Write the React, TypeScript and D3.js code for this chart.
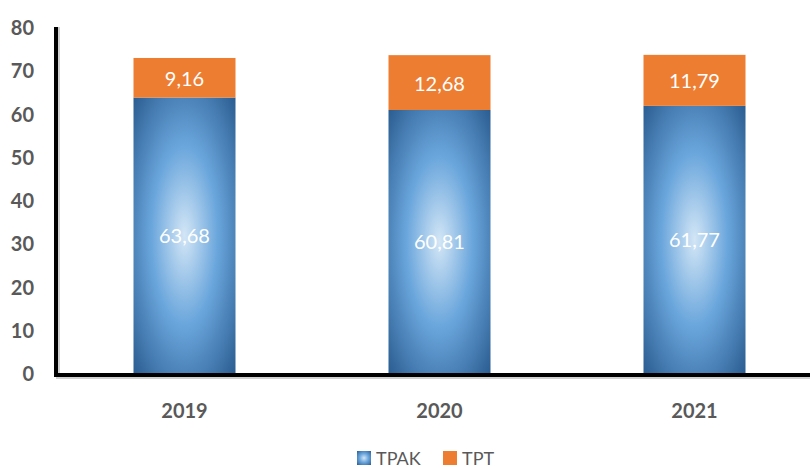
import React from "react";
import * as d3 from "d3";

const years = ["2019", "2020", "2021"];
const tpak = [63.68, 60.81, 61.77];
const tpt = [9.16, 12.68, 11.79];
const yTicks = [0, 10, 20, 30, 40, 50, 60, 70, 80];

const fmt = (v: number) => v.toFixed(2).replace(".", ",");

const App: React.FC = () => {
  const width = 810;
  const height = 468;

  const x = d3.scaleBand().domain(years).range([57, 822]).paddingInner(0.6).paddingOuter(0.3);
  const y = d3.scaleLinear().domain([0, 80]).range([373, 27]);

  const labelFont = "Lato, 'Open Sans', sans-serif";

  return (
    <svg
      width={width}
      height={height}
      style={{ position: "absolute", left: 0, top: 0, background: "#fff" }}
    >
      <defs>
        <radialGradient id="blueGrad" cx="50%" cy="50%" r="72%">
          <stop offset="0%" stopColor="#d3e6f6" />
          <stop offset="45%" stopColor="#6aa6dc" />
          <stop offset="100%" stopColor="#285a8e" />
        </radialGradient>
      </defs>

      {/* bars */}
      {years.map((yr, i) => {
        const bx = x(yr) || 0;
        const bw = x.bandwidth();
        const yBase = y(0);
        const yMid = y(tpak[i]);
        const yTop = y(tpak[i] + tpt[i]);
        return (
          <g key={yr}>
            <rect x={bx} y={yMid} width={bw} height={yBase - yMid} fill="url(#blueGrad)" />
            <rect x={bx} y={yTop} width={bw} height={yMid - yTop} fill="#ed7d31" />
            <text
              x={bx + bw / 2}
              y={(yBase + yMid) / 2}
              textAnchor="middle"
              dominantBaseline="central"
              fill="#fff"
              fontFamily={labelFont}
              fontSize={20}
            >
              {fmt(tpak[i])}
            </text>
            <text
              x={bx + bw / 2}
              y={(yMid + yTop) / 2}
              textAnchor="middle"
              dominantBaseline="central"
              fill="#fff"
              fontFamily={labelFont}
              fontSize={20}
            >
              {fmt(tpt[i])}
            </text>
          </g>
        );
      })}

      {/* axes */}
      <line x1={58} y1={27} x2={58} y2={378} stroke="#d0d0d0" strokeWidth={4} />
      <line x1={56} y1={27} x2={56} y2={376} stroke="#000" strokeWidth={4} />
      <line x1={56} y1={377} x2={810} y2={377} stroke="#d0d0d0" strokeWidth={4} />
      <line x1={54} y1={375} x2={810} y2={375} stroke="#000" strokeWidth={4} />

      {yTicks.map((t) => (
        <text
          key={t}
          x={34}
          y={y(t)}
          textAnchor="end"
          dominantBaseline="central"
          fill="#595959"
          fontFamily={labelFont}
          fontWeight="bold"
          fontSize={20}
        >
          {t}
        </text>
      ))}

      {years.map((yr) => (
        <text
          key={yr}
          x={(x(yr) || 0) + x.bandwidth() / 2}
          y={410}
          textAnchor="middle"
          dominantBaseline="central"
          fill="#595959"
          fontFamily={labelFont}
          fontWeight="bold"
          fontSize={20}
        >
          {yr}
        </text>
      ))}

      {/* legend */}
      <rect x={357} y={451} width={14} height={14} fill="url(#blueGrad)" />
      <text x={376} y={458} dominantBaseline="central" fill="#595959" fontFamily={labelFont} fontSize={18}>
        TPAK
      </text>
      <rect x={443} y={451} width={14} height={14} fill="#ed7d31" />
      <text x={462} y={458} dominantBaseline="central" fill="#595959" fontFamily={labelFont} fontSize={18}>
        TPT
      </text>
    </svg>
  );
};

export default App;
